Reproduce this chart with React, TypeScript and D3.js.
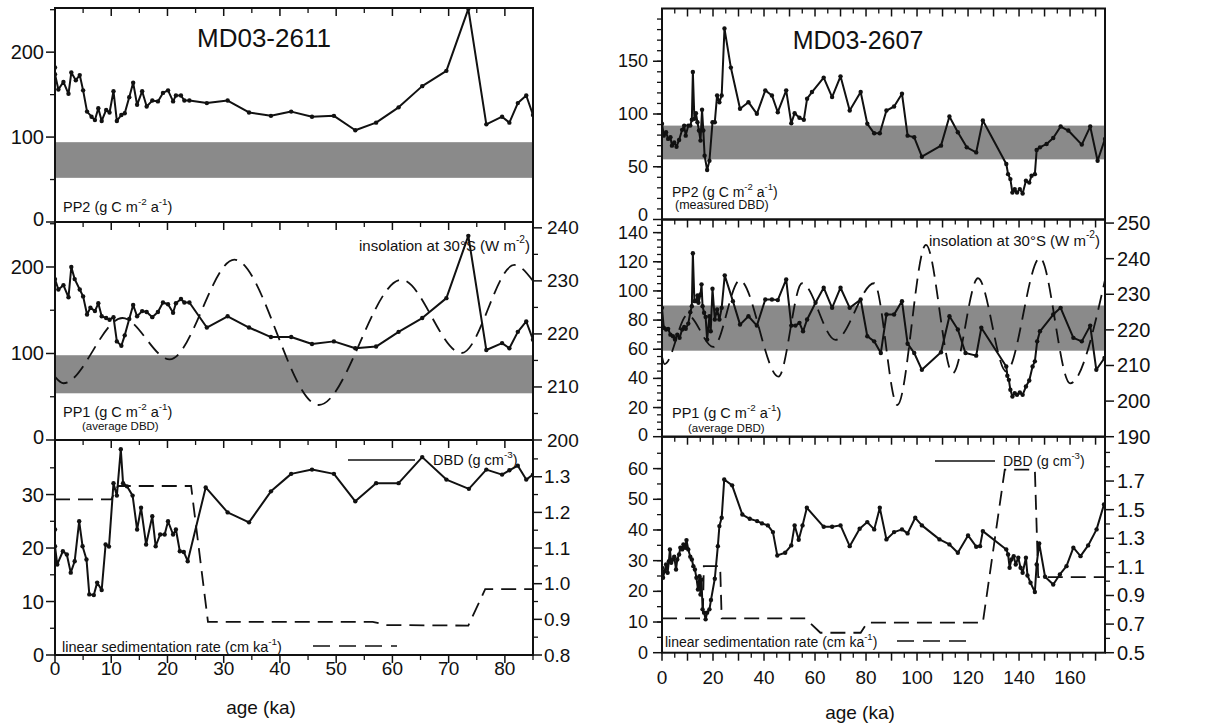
import React from 'react'
import * as d3 from 'd3'

type Pt = [number, number]

// ---------- MD03-2611 (age ka, value) ----------
const pp2_2611: Pt[] = [
  [0, 182], [0, 174], [0.6, 156], [1.5, 165], [2.4, 151], [2.9, 176], [3.7, 167], [4.4, 173], [5, 155],
  [5.7, 130], [6.5, 124], [7.1, 120], [7.7, 134], [8.3, 119], [9.1, 132], [9.7, 129], [10.4, 154], [11, 119],
  [11.8, 126], [12.4, 128], [13.2, 147], [13.9, 164], [14.6, 138], [15.5, 154], [16.3, 136], [17.3, 143],
  [18.3, 142], [19.2, 152], [20.1, 155], [21, 142], [21.5, 149], [22.4, 149], [23, 143], [23.9, 143], [27, 140],
  [30.7, 143], [34.5, 129], [38.4, 125], [42, 130], [45.7, 124], [49.6, 125], [53.4, 108], [57.1, 117],
  [61.1, 135], [65.3, 160], [69.6, 178], [73.5, 251], [76.7, 115], [79.5, 124], [80.8, 117], [82.3, 140],
  [83.8, 149], [85, 126],
]
const pp1_2611: Pt[] = [
  [0, 186], [0.6, 174], [1.5, 179], [2.4, 165], [2.9, 200], [3.5, 186], [4.4, 174], [5, 166], [5.7, 145],
  [6.3, 153], [7.1, 149], [7.7, 158], [8.3, 143], [9.1, 141], [9.7, 139], [10.4, 142], [11, 114], [11.8, 109],
  [12.4, 121], [13.2, 140], [13.9, 156], [14.6, 143], [15.5, 149], [16.3, 148], [17.3, 142], [18.3, 148],
  [19.2, 159], [20.1, 157], [21, 147], [21.5, 158], [22.4, 163], [23, 159], [23.9, 159], [27, 130], [30.7, 143],
  [34.5, 130], [38.4, 119], [42, 119], [45.7, 111], [49.6, 114], [53.4, 106], [57.1, 108], [61.1, 125],
  [65.3, 141], [69.6, 164], [73.5, 236], [76.7, 104], [79.5, 112], [80.8, 106], [82.3, 125], [83.8, 137], [85, 116],
]
const insol_2611: Pt[] = [
  [0, 211.9], [1.5, 210.7], [12, 223], [20.4, 215.2], [31.9, 234], [46.9, 206.6], [61.6, 230.2],
  [72.3, 216.4], [81.7, 233], [85, 230],
]
const dbd_2611: Pt[] = [
  [0, 1.152], [0, 1.105], [0.4, 1.054], [1.4, 1.091], [2.1, 1.082], [2.8, 1.031], [3.5, 1.063], [4.3, 1.175],
  [4.9, 1.105], [5.6, 1.068], [6.1, 0.97], [6.9, 0.968], [7.5, 1.003], [8.3, 0.982], [9, 1.11], [9.6, 1.104],
  [10.4, 1.282], [11, 1.247], [11.7, 1.377], [12.1, 1.282], [12.8, 1.273], [13.8, 1.247], [14.6, 1.152],
  [15.3, 1.213], [16.2, 1.11], [17.3, 1.189], [17.9, 1.105], [18.7, 1.138], [19.5, 1.138], [20.1, 1.175],
  [21, 1.138], [21.5, 1.152], [22.2, 1.091], [22.9, 1.089], [23.6, 1.063], [26.8, 1.27], [30.7, 1.2],
  [34.5, 1.172], [38.4, 1.259], [42, 1.308], [45.7, 1.32], [49.6, 1.308], [53.4, 1.231], [57.1, 1.282],
  [61.1, 1.282], [65.3, 1.355], [69.6, 1.292], [73.6, 1.266], [76.7, 1.32], [79.5, 1.306], [80.8, 1.318],
  [82.3, 1.331], [83.8, 1.292], [85, 1.306],
]
const lsr_2611: Pt[] = [
  [0, 29.1], [10, 29.1], [11.2, 31.6], [24.2, 31.6], [27.2, 6.2], [56.5, 6.2], [59, 5.6], [73.5, 5.5],
  [76.5, 12.3], [85, 12.3],
]
const band_pp2_2611 = [52, 94]
const band_pp1_2611 = [54, 98]

// ---------- MD03-2607 ----------
const pp2_2607: Pt[] = [
  [0, 90.7], [0.7, 79.5], [1.6, 82.7], [2.4, 76.4], [3.3, 77.9], [3.9, 70], [4.8, 73.1], [5.7, 69], [6.7, 75.4],
  [7.9, 85], [8.7, 89], [9.3, 79.5], [10.3, 89], [11.1, 89], [11.7, 94.5], [12.1, 139.8], [12.7, 95.4],
  [13.3, 100.8], [13.9, 92.2], [14.5, 84.3], [15.1, 74.8], [15.7, 104], [16.2, 84.3], [16.7, 60.5], [17.7, 46.9],
  [18.6, 55.7], [19.8, 92.2], [20.7, 92.2], [21.6, 117.6], [22.5, 111.2], [23.4, 117.6], [24.5, 181], [27, 144],
  [30.6, 105], [33.9, 111.2], [37.2, 100.2], [40.5, 122.4], [43.1, 117.6], [45.4, 101.7], [48.7, 122.4],
  [50.7, 91.2], [52, 100.8], [53.9, 96.4], [55.6, 94.5], [56.9, 114.5], [58.8, 120.8], [63.4, 134.5],
  [66.7, 116], [70, 135.7], [73.6, 103.3], [77.9, 120.8], [80.5, 90.7], [83.2, 81.7], [85.4, 81.7], [88, 103.3],
  [91, 107.1], [94.1, 119.2], [96.3, 79.5], [98.9, 77.9], [101.9, 59.5], [109.4, 70], [112.7, 97.6], [116, 82.7],
  [119.5, 68.4], [123.2, 63.6], [125.8, 93.8], [135, 52.6], [135.7, 43], [136.6, 38.3], [137.4, 25.5],
  [138.3, 28.8], [139.2, 25.5], [140.3, 28.8], [141.4, 24.6], [142.7, 36.7], [144, 35], [144.9, 41.4],
  [146.2, 43], [146.9, 65.9], [148.2, 68.4], [150.8, 71.6], [153.4, 77.3], [156.3, 88.1], [159.3, 84.3],
  [164.6, 71], [167.9, 88.1], [170.8, 55.7], [173.7, 76.4],
]
const pp1_2607: Pt[] = [
  [0, 88.4], [0.7, 74.7], [1.6, 73.5], [2.4, 74], [3.3, 70], [4.3, 68.9], [5.1, 66.6], [6, 70], [6.9, 67.8],
  [7.9, 73.5], [8.7, 75.3], [9.3, 74], [10.3, 77.6], [11.1, 85.4], [11.7, 89.5], [12.1, 125.8], [12.7, 93],
  [13.3, 93], [13.9, 96.9], [14.3, 91.9], [15.1, 97.6], [15.5, 104.5], [15.9, 89.5], [16.5, 85], [17.1, 82.2],
  [17.7, 66.6], [18.6, 82.6], [19.1, 72.3], [19.8, 101.5], [20.7, 80.4], [21.6, 87.3], [22.5, 80.4],
  [23.4, 88.4], [24.6, 110.7], [27.8, 93], [30.6, 76.9], [33.9, 82.6], [37.2, 76.2], [40.5, 94.1], [43.1, 94.1],
  [45.4, 93.7], [48.7, 107.9], [50.7, 76.2], [52.3, 76.2], [53.9, 78.1], [55.3, 72.3], [56.9, 80.4],
  [60.2, 91.9], [63.4, 102.2], [66.7, 88.4], [70, 102.2], [73.6, 88.4], [77.9, 94.1], [80.5, 68.9],
  [83.2, 65.4], [85.8, 57.4], [88, 83.8], [91, 83.8], [94.1, 93], [96.3, 63.8], [98.9, 57.4], [101.9, 45.9],
  [109.4, 57.9], [112.7, 82.6], [116, 73.5], [119, 57.4], [123.2, 55.6], [125.2, 74.7], [135, 48.2],
  [135.4, 41.8], [136, 39], [136.6, 32.2], [137.4, 27.5], [138.3, 29.9], [139.2, 28.7], [140.3, 30.3],
  [141.4, 28.7], [142.7, 34.4], [144, 38.6], [145.3, 48.2], [146.2, 51.7], [147.1, 65.4], [148.2, 72.3],
  [153.4, 83.8], [156.3, 88.4], [161.3, 67.8], [164.6, 65.4], [167.9, 76.2], [170.3, 45.9], [173.5, 54],
]
const insol_2607: Pt[] = [
  [0, 212.5], [1, 210.4], [10, 224.2], [20.1, 215.2], [30.5, 233.9], [45.7, 206.9], [54.9, 233.1],
  [68, 217.2], [83.2, 233.1], [92.3, 198.9], [103.5, 243.9], [114, 207.8], [123.9, 234.5], [135, 208.3],
  [148.2, 240.2], [160, 205], [173.7, 234],
]
const dbd_2607: Pt[] = [
  [0, 1.094], [0.4, 1.024], [1, 1.07], [1.6, 1.117], [2.2, 1.059], [2.7, 1.14], [3.1, 1.222], [3.6, 1.129],
  [4.3, 1.152], [4.8, 1.171], [5.5, 1.082], [6, 1.152], [6.7, 1.187], [7.2, 1.234], [7.9, 1.222], [8.4, 1.257],
  [9.1, 1.234], [9.6, 1.287], [10.3, 1.222], [11.1, 1.171], [11.7, 1.152], [12.3, 1.105], [12.9, 1.082],
  [13.5, 1.024], [14.1, 0.942], [14.7, 1.035], [15.1, 0.907], [15.5, 1.012], [15.9, 0.803], [16.5, 0.78],
  [17.1, 0.733], [17.7, 0.78], [18.6, 0.803], [19.2, 0.868], [20.7, 1.017], [21.9, 1.245], [22.5, 1.385],
  [23.4, 1.443], [24.4, 1.711], [27.5, 1.67], [31.5, 1.466], [34.4, 1.436], [37.3, 1.42], [39.2, 1.404],
  [41.5, 1.39], [43.5, 1.343], [45.2, 1.18], [48.3, 1.199], [50.7, 1.25], [52, 1.39], [53.6, 1.29], [55.1, 1.39],
  [56.8, 1.513], [63.4, 1.38], [66.7, 1.38], [70, 1.39], [73.6, 1.245], [77.5, 1.367], [80.5, 1.413],
  [83.2, 1.362], [85.4, 1.513], [88, 1.292], [91, 1.343], [94.1, 1.362], [96.3, 1.334], [99.3, 1.443],
  [101.9, 1.39], [108.8, 1.292], [112.7, 1.257], [116, 1.199], [120, 1.32], [123.2, 1.241], [124.7, 1.245],
  [125.8, 1.35], [135, 1.222], [135.7, 1.187], [136.3, 1.094], [137, 1.152], [137.9, 1.175], [138.7, 1.117],
  [139.7, 1.164], [140.6, 1.094], [141.4, 1.059], [142.7, 1.164], [143.3, 1.04], [144.5, 0.989], [146.2, 0.924],
  [146.9, 1.117], [147.9, 1.264], [150.2, 1.031], [153.4, 0.977], [156, 1.047], [158.6, 1.105], [161.3, 1.234],
  [164.1, 1.175], [167.1, 1.25], [170.4, 1.362], [173.3, 1.536],
]
const lsr_2607: Pt[] = [
  [0, 11.2], [16, 11.2], [16.4, 28.2], [22.8, 28.2], [23.4, 11.2], [56.2, 11.2], [62.1, 6.5], [77.9, 6.5],
  [80.5, 9.8], [125.8, 9.8], [134.4, 59.7], [146.2, 59.7], [147.5, 24.6], [173.7, 24.6],
]
const band_pp2_2607 = [57, 89]
const band_pp1_2607 = [59, 90]

// ---------- tick labels ----------
const ageLabels_2611 = [0, 10, 20, 30, 40, 50, 60, 70, 80]
const ageLabels_2607 = [0, 20, 40, 60, 80, 100, 120, 140, 160]
const ppLabels_2611 = [0, 100, 200]
const insolLabels_2611 = [200, 210, 220, 230, 240]
const lsrLabels_2611 = [0, 10, 20, 30]
const dbdLabels_2611 = [0.8, 0.9, 1.0, 1.1, 1.2, 1.3]
const pp2Labels_2607 = [0, 50, 100, 150]
const pp1Labels_2607 = [0, 20, 40, 60, 80, 100, 120, 140]
const insolLabels_2607 = [190, 200, 210, 220, 230, 240, 250]
const lsrLabels_2607 = [0, 10, 20, 30, 40, 50, 60]
const dbdLabels_2607 = [0.5, 0.7, 0.9, 1.1, 1.3, 1.5, 1.7]

const FONT = '"Liberation Sans", Arial, Helvetica, sans-serif'
const INK = '#111'

type Scale = d3.ScaleLinear<number, number>

function Series({ data, x, y }: { data: Pt[]; x: Scale; y: Scale }) {
  const line = d3.line<Pt>().x(d => x(d[0])).y(d => y(d[1]))
  return (
    <g>
      <path d={line(data) || ''} fill="none" stroke={INK} strokeWidth={2} strokeLinejoin="round" />
      {data.map((d, i) => <circle key={i} cx={x(d[0])} cy={y(d[1])} r={2.2} fill={INK} />)}
    </g>
  )
}

function Dashed({ data, x, y, smooth }: { data: Pt[]; x: Scale; y: Scale; smooth?: boolean }) {
  const line = d3.line<Pt>().x(d => x(d[0])).y(d => y(d[1]))
    .curve(smooth ? d3.curveMonotoneX : d3.curveLinear)
  return <path d={line(data) || ''} fill="none" stroke={INK} strokeWidth={1.8} strokeDasharray="15 8" />
}

// lift: nudge the bottom label up so it does not collide with the panel below
function YTicks({ scale, x, side, labels, minor, fmt, gap, fs = 19, lift = 0 }:
  { scale: Scale; x: number; side: 'left' | 'right'; labels: number[]; minor: number[]; fmt: (v: number) => string; gap: number; fs?: number; lift?: number }) {
  const dir = side === 'left' ? -1 : 1
  const lowest = d3.min(labels)
  return (
    <g>
      {minor.map((v, i) => (
        <line key={'m' + i} x1={x} x2={x + dir * 5} y1={scale(v)} y2={scale(v)} stroke={INK} strokeWidth={1.3} />
      ))}
      {labels.map((v, i) => (
        <g key={'l' + i}>
          <line x1={x} x2={x + dir * 9} y1={scale(v)} y2={scale(v)} stroke={INK} strokeWidth={1.5} />
          <text x={x + dir * gap} y={scale(v) - (v === lowest ? lift : 0)} textAnchor={side === 'left' ? 'end' : 'start'}
            dominantBaseline="central" fontSize={fs}>{fmt(v)}</text>
        </g>
      ))}
    </g>
  )
}

function XTicks({ scale, y, major, minor }: { scale: Scale; y: number; major: number[]; minor: number[] }) {
  return (
    <g stroke={INK}>
      {minor.map((v, i) => <line key={'m' + i} x1={scale(v)} x2={scale(v)} y1={y} y2={y + 5} strokeWidth={1.3} />)}
      {major.map((v, i) => <line key={'M' + i} x1={scale(v)} x2={scale(v)} y1={y} y2={y + 8} strokeWidth={1.5} />)}
    </g>
  )
}

function Units({ x, y, pre, e1, mid, e2, fs, anchor = 'start' }:
  { x: number; y: number; pre: string; e1: string; mid?: string; e2?: string; fs: number; anchor?: string }) {
  const sup = fs * 0.68
  const up = fs * 0.42
  return (
    <text x={x} y={y} fontSize={fs} dominantBaseline="central" textAnchor={anchor}>
      {pre}<tspan dy={-up} fontSize={sup}>{e1}</tspan>
      {mid !== undefined && <tspan dy={up}>{mid}</tspan>}
      {e2 !== undefined && <tspan dy={-up} fontSize={sup}>{e2}</tspan>}
      <tspan dy={up}>)</tspan>
    </text>
  )
}

export default function App() {
  // column layouts
  const A = { l: 55, r: 533, rows: [8, 222, 440, 655] }
  const B = { l: 662, r: 1105, rows: [8.5, 219.5, 436.7, 652.7] }

  const xA = d3.scaleLinear().domain([0, 85]).range([A.l, A.r])
  const xB = d3.scaleLinear().domain([0, 173.7]).range([B.l, B.r])

  const yA_pp2 = d3.scaleLinear().domain([0, 252]).range([A.rows[1], A.rows[0]])
  const yA_pp1 = d3.scaleLinear().domain([0, 252]).range([A.rows[2], A.rows[1]])
  const yA_ins = d3.scaleLinear().domain([200, 241.1]).range([A.rows[2], A.rows[1]])
  const yA_lsr = d3.scaleLinear().domain([0, 40.2]).range([A.rows[3], A.rows[2]])
  const yA_dbd = d3.scaleLinear().domain([0.8, 1.403]).range([A.rows[3], A.rows[2]])

  const yB_pp2 = d3.scaleLinear().domain([0, 200]).range([B.rows[1], B.rows[0]])
  const yB_pp1 = d3.scaleLinear().domain([0, 149]).range([B.rows[2], B.rows[1]])
  const yB_ins = d3.scaleLinear().domain([190, 251]).range([B.rows[2], B.rows[1]])
  const yB_lsr = d3.scaleLinear().domain([0, 70.4]).range([B.rows[3], B.rows[2]])
  const yB_dbd = d3.scaleLinear().domain([0.5, 2.01]).range([B.rows[3], B.rows[2]])

  const f0 = d3.format('d')
  const f1 = d3.format('.1f')

  const band = (col: typeof A, s: Scale, b: number[]) => (
    <rect x={col.l + 1} width={col.r - col.l - 2} y={s(b[1])} height={s(b[0]) - s(b[1])} fill="#8a8a8a" />
  )

  const clips = [
    ['cA0', A, 0], ['cA1', A, 1], ['cA2', A, 2], ['cB0', B, 0], ['cB1', B, 1], ['cB2', B, 2],
  ] as [string, typeof A, number][]

  return (
    <svg width={1207} height={725} style={{ position: 'absolute', left: 0, top: 0, background: '#fff' }}
      fontFamily={FONT} fill={INK}>
      <defs>
        {clips.map(([id, c, k]) => (
          <clipPath id={id} key={id}>
            <rect x={c.l} y={c.rows[k]} width={c.r - c.l} height={c.rows[k + 1] - c.rows[k]} />
          </clipPath>
        ))}
      </defs>

      {/* ================= MD03-2611 ================= */}
      {band(A, yA_pp2, band_pp2_2611)}
      {band(A, yA_pp1, band_pp1_2611)}
      <g clipPath="url(#cA0)"><Series data={pp2_2611} x={xA} y={yA_pp2} /></g>
      <g clipPath="url(#cA1)">
        <Dashed data={insol_2611} x={xA} y={yA_ins} smooth />
        <Series data={pp1_2611} x={xA} y={yA_pp1} />
      </g>
      <g clipPath="url(#cA2)">
        <Dashed data={lsr_2611} x={xA} y={yA_lsr} />
        <Series data={dbd_2611} x={xA} y={yA_dbd} />
      </g>

      {A.rows.slice(0, 3).map((r, i) => (
        <rect key={i} x={A.l} y={r} width={A.r - A.l} height={A.rows[i + 1] - r} fill="none" stroke={INK} strokeWidth={2} />
      ))}
      {A.rows.map((r, i) => (
        <XTicks key={i} scale={xA} y={r} major={d3.range(0, 86, 10)} minor={d3.range(5, 86, 10)} />
      ))}
      {ageLabels_2611.map(v => (
        <text key={v} x={xA(v)} y={668} textAnchor="middle" dominantBaseline="central" fontSize={19}>{v}</text>
      ))}
      <text x={261} y={707} textAnchor="middle" dominantBaseline="central" fontSize={19}>age (ka)</text>

      <YTicks scale={yA_pp2} x={A.l} side="left" labels={ppLabels_2611} minor={[50, 150, 250]} fmt={f0} gap={11} fs={20} lift={3} />
      <YTicks scale={yA_pp1} x={A.l} side="left" labels={ppLabels_2611} minor={[50, 150, 250]} fmt={f0} gap={11} fs={20} lift={3} />
      <YTicks scale={yA_ins} x={A.r} side="right" labels={insolLabels_2611} minor={[205, 215, 225, 235]} fmt={f0} gap={14} fs={19} />
      <YTicks scale={yA_lsr} x={A.l} side="left" labels={lsrLabels_2611} minor={[5, 15, 25, 35]} fmt={f0} gap={11} fs={20} />
      <YTicks scale={yA_dbd} x={A.r} side="right" labels={dbdLabels_2611} minor={[0.85, 0.95, 1.05, 1.15, 1.25, 1.35]} fmt={f1} gap={11} fs={19} />

      <text x={197} y={38} fontSize={26} dominantBaseline="central">MD03-2611</text>
      <Units x={63} y={207} pre="PP2 (g C m" e1="-2" mid=" a" e2="-1" fs={14.5} />
      <Units x={530} y={245} pre="insolation at 30°S (W m" e1="-2" fs={15} anchor="end" />
      <Units x={63} y={412} pre="PP1 (g C m" e1="-2" mid=" a" e2="-1" fs={14.5} />
      <text x={82} y={426} fontSize={11.5} dominantBaseline="central">(average DBD)</text>
      <line x1={348} x2={415} y1={460} y2={460} stroke={INK} strokeWidth={1.3} />
      <Units x={433} y={460} pre="DBD (g cm" e1="-3" fs={14.5} />
      <Units x={62} y={647} pre="linear sedimentation rate (cm ka" e1="-1" fs={14.5} />
      <line x1={313} x2={397} y1={646} y2={646} stroke={INK} strokeWidth={1.3} strokeDasharray="17 9" />

      {/* ================= MD03-2607 ================= */}
      {band(B, yB_pp2, band_pp2_2607)}
      {band(B, yB_pp1, band_pp1_2607)}
      <g clipPath="url(#cB0)"><Series data={pp2_2607} x={xB} y={yB_pp2} /></g>
      <g clipPath="url(#cB1)">
        <Dashed data={insol_2607} x={xB} y={yB_ins} smooth />
        <Series data={pp1_2607} x={xB} y={yB_pp1} />
      </g>
      <g clipPath="url(#cB2)">
        <Dashed data={lsr_2607} x={xB} y={yB_lsr} />
        <Series data={dbd_2607} x={xB} y={yB_dbd} />
      </g>

      {B.rows.slice(0, 3).map((r, i) => (
        <rect key={i} x={B.l} y={r} width={B.r - B.l} height={B.rows[i + 1] - r} fill="none" stroke={INK} strokeWidth={2} />
      ))}
      {B.rows.map((r, i) => (
        <XTicks key={i} scale={xB} y={r} major={d3.range(0, 171, 10)} minor={d3.range(5, 174, 10)} />
      ))}
      {ageLabels_2607.map(v => (
        <text key={v} x={xB(v)} y={677} textAnchor="middle" dominantBaseline="central" fontSize={19}>{v}</text>
      ))}
      <text x={860} y={712} textAnchor="middle" dominantBaseline="central" fontSize={19}>age (ka)</text>

      <YTicks scale={yB_pp2} x={B.l} side="left" labels={pp2Labels_2607} minor={d3.range(10, 200, 10)} fmt={f0} gap={14} fs={18} lift={5} />
      <YTicks scale={yB_pp1} x={B.l} side="left" labels={pp1Labels_2607} minor={d3.range(5, 149, 5)} fmt={f0} gap={14} fs={18} lift={2} />
      <YTicks scale={yB_ins} x={B.r} side="right" labels={insolLabels_2607} minor={[]} fmt={f0} gap={12} fs={20} />
      <YTicks scale={yB_lsr} x={B.l} side="left" labels={lsrLabels_2607} minor={d3.range(5, 70, 5)} fmt={f0} gap={14} fs={18} />
      <YTicks scale={yB_dbd} x={B.r} side="right" labels={dbdLabels_2607} minor={[0.6, 0.8, 1.0, 1.2, 1.4, 1.6, 1.8, 1.9]} fmt={f1} gap={12} fs={20} />

      <text x={858} y={40} fontSize={25} textAnchor="middle" dominantBaseline="central">MD03-2607</text>
      <Units x={672} y={192} pre="PP2 (g C m" e1="-2" mid=" a" e2="-1" fs={14} />
      <text x={675} y={205} fontSize={12.5} dominantBaseline="central">(measured DBD)</text>
      <Units x={1100} y={240} pre="insolation at 30°S (W m" e1="-2" fs={15} anchor="end" />
      <Units x={672} y={413} pre="PP1 (g C m" e1="-2" mid=" a" e2="-1" fs={14.5} />
      <text x={688} y={428} fontSize={11.5} dominantBaseline="central">(average DBD)</text>
      <line x1={935} x2={995} y1={461} y2={461} stroke={INK} strokeWidth={1.3} />
      <Units x={1003} y={461} pre="DBD (g cm" e1="-3" fs={14} />
      <Units x={665} y={642} pre="linear sedimentation rate (cm ka" e1="-1" fs={14} />
      <line x1={897} x2={973} y1={641} y2={641} stroke={INK} strokeWidth={1.3} strokeDasharray="17 9" />
    </svg>
  )
}
